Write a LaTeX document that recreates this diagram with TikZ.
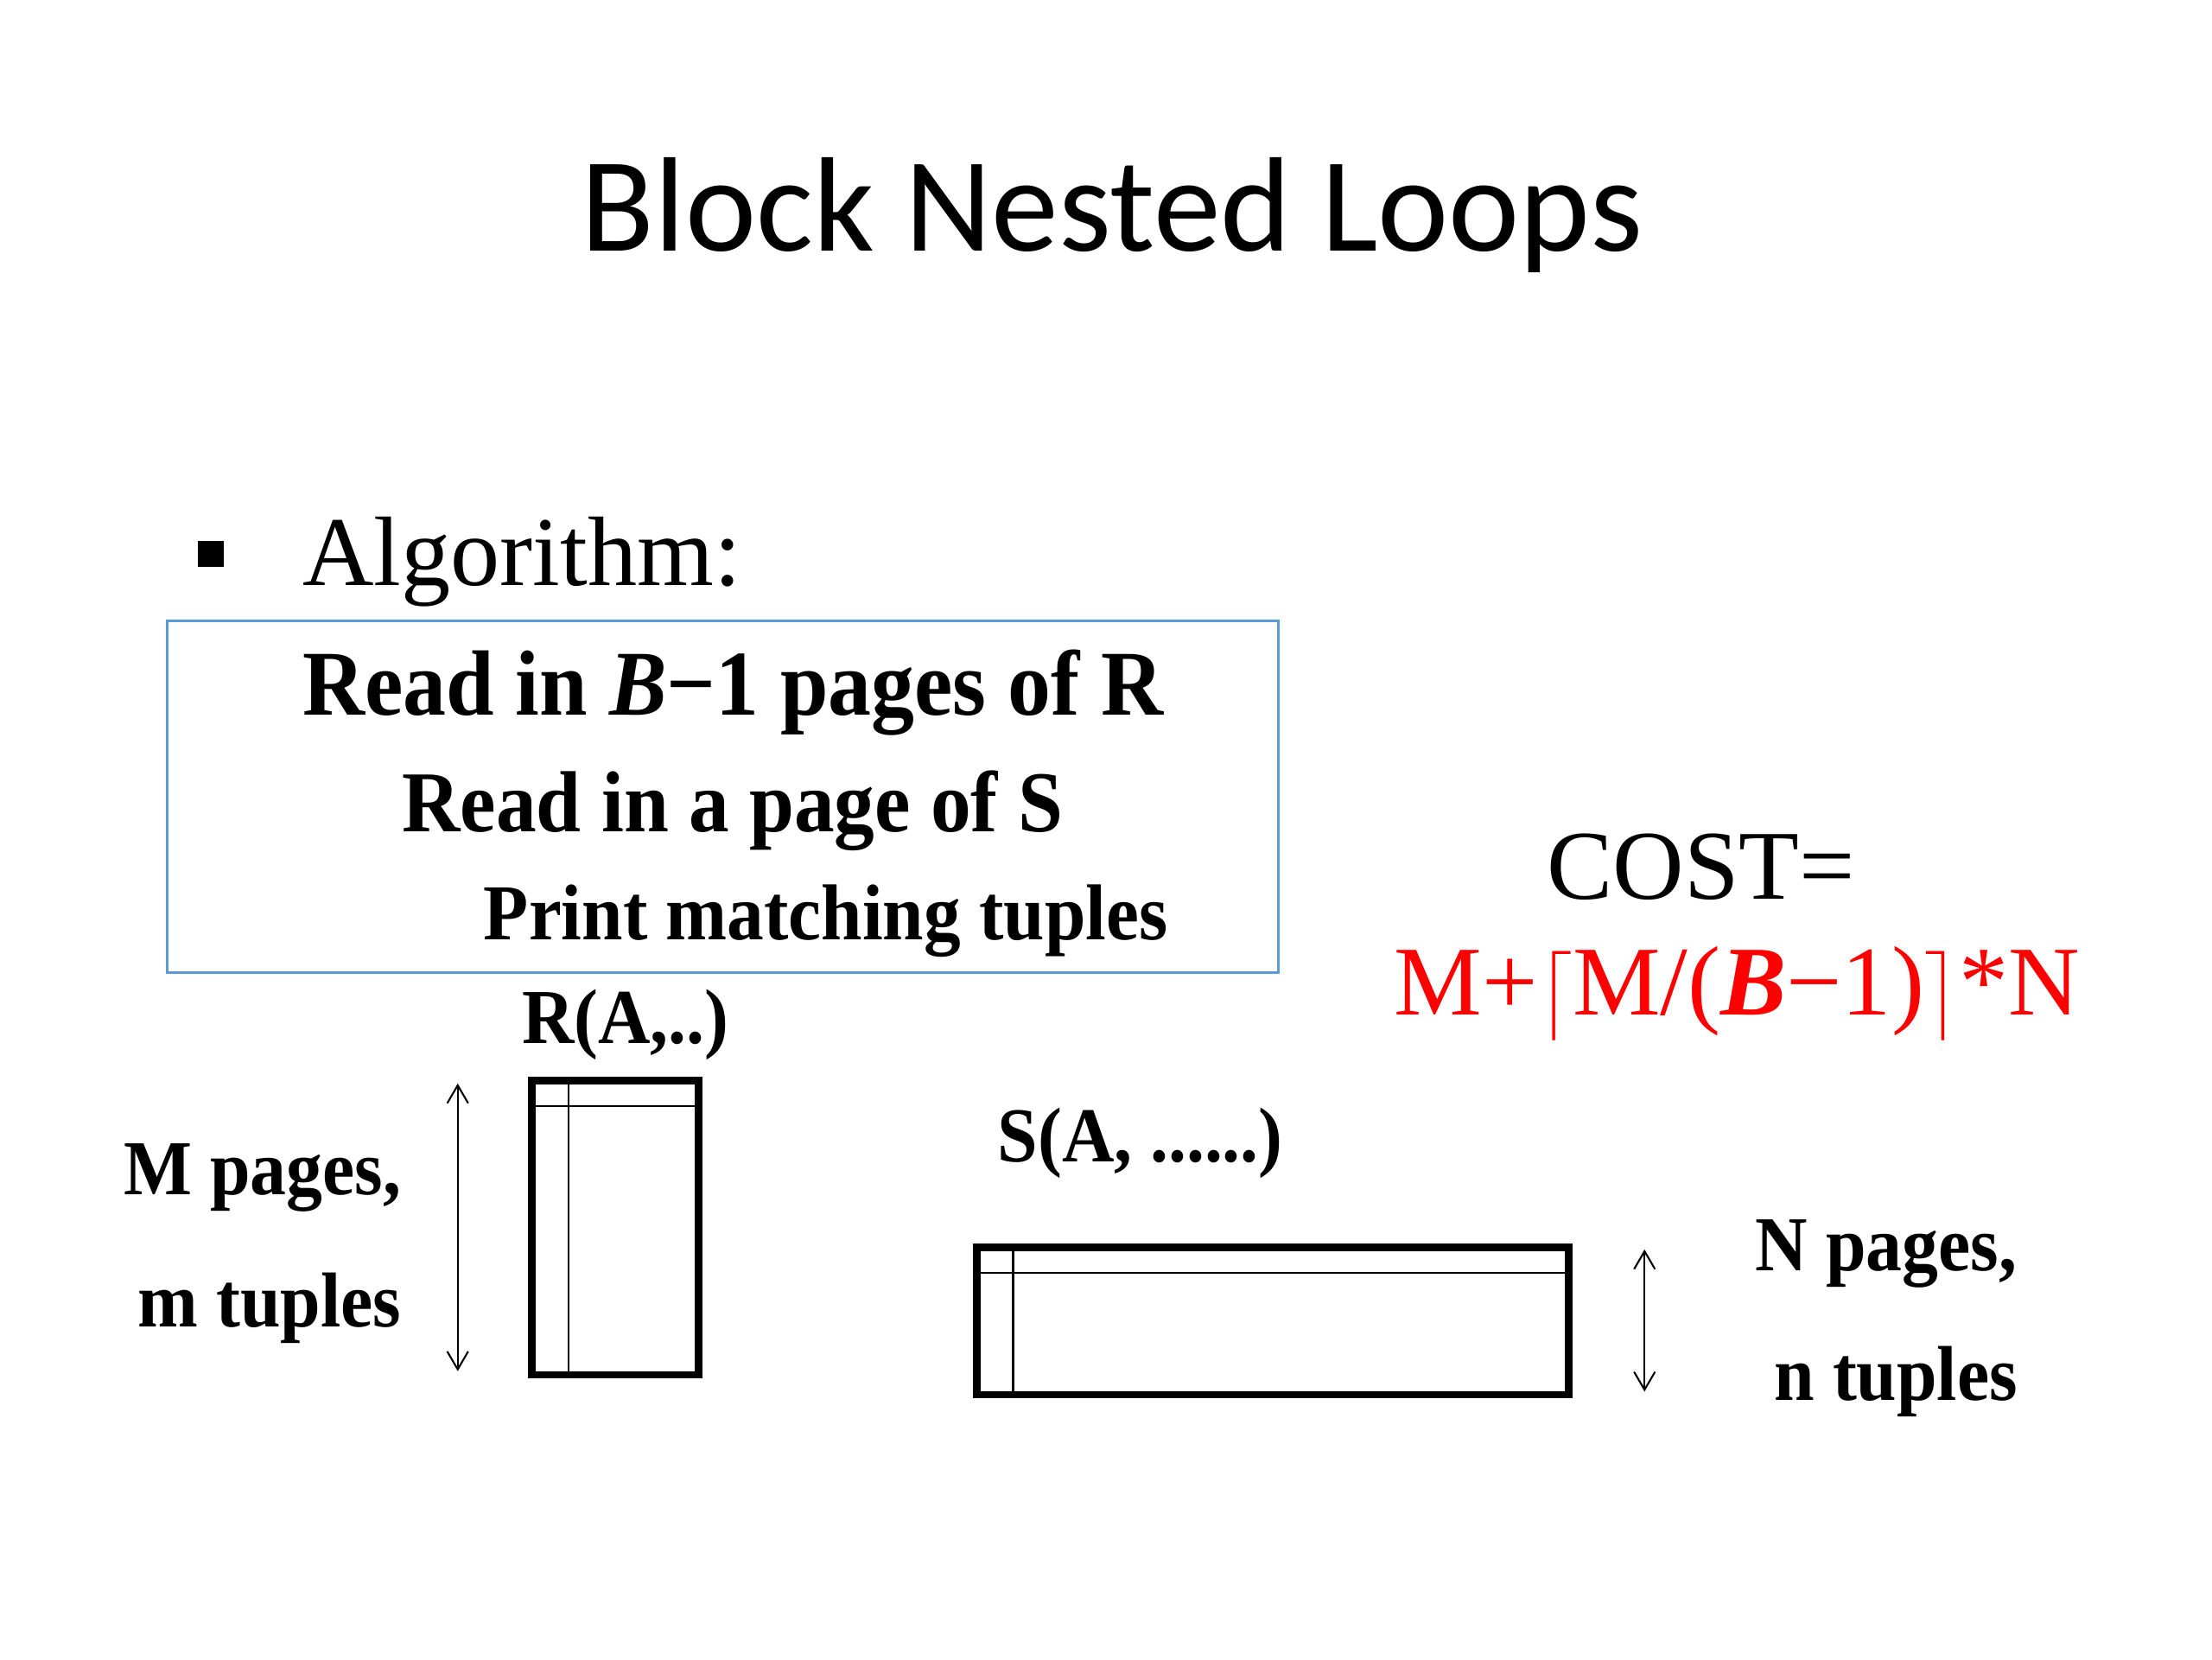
\documentclass[tikz,border=0pt]{standalone}
\usepackage{amsmath}
\usepackage{fontspec}
\setmainfont{Liberation Serif}
\newfontfamily\titlefont{Carlito}
\newfontfamily\narrowfont[FakeStretch=0.93]{Liberation Serif}
\usepackage{tikz}
\usetikzlibrary{arrows.meta}
\definecolor{myblack}{rgb}{0.000,0.000,0.000}
\definecolor{myred}{rgb}{1.000,0.000,0.000}
\definecolor{myblue}{rgb}{0.357,0.608,0.835}
\tikzstyle{none}=[inner sep=0pt]
\tikzstyle{title}=[inner sep=0pt,anchor=base,font=\titlefont\fontsize{45}{50}\selectfont]
\tikzstyle{bullet}=[inner sep=0pt,anchor=base west,font=\fontsize{33}{38}\selectfont]
\tikzstyle{step1}=[inner sep=0pt,anchor=base west,font=\narrowfont\bfseries\fontsize{31}{36}\selectfont]
\tikzstyle{step2}=[inner sep=0pt,anchor=base west,font=\narrowfont\bfseries\fontsize{29}{34}\selectfont]
\tikzstyle{step3}=[inner sep=0pt,anchor=base west,font=\narrowfont\bfseries\fontsize{26.5}{32}\selectfont]
\tikzstyle{label}=[inner sep=0pt,font=\narrowfont\bfseries\fontsize{26}{30}\selectfont]
\tikzstyle{cost}=[inner sep=0pt,anchor=base west,font=\fontsize{33}{38}\selectfont]
\tikzstyle{table}=[draw=myblack,line width=2.4pt]
\tikzstyle{rule}=[draw=myblack,line width=0.7pt]
\tikzstyle{size}=[draw=myblack,line width=0.6pt,{Straight Barb[length=6pt,width=7pt]}-{Straight Barb[length=6pt,width=7pt]}]

\begin{document}
\begin{tikzpicture}
\useasboundingbox (0,0) rectangle (26,19.5);
\node [title] (t) at (13.07,16.55) {Block Nested Loops};
\fill [myblack] (2.33,12.84) rectangle (2.63,13.14);
\node [bullet] (alg) at (3.55,12.62) {Algorithm:};
\draw [draw=myblue,line width=0.86pt] (1.97,12.2) rectangle (15.03,8.07);
\node [step1] (l1) at (3.55,11.1) {Read in \textit{B}−1 pages of R};
\node [step2] (l2) at (4.72,9.72) {Read in a page of S};
\node [step3] (l3) at (5.68,8.46) {Print matching tuples};
\node [cost] (c1) at (18.18,8.93) {COST=};
\node [cost,text=myred] (c2) at (16.38,7.57) {M+$\bigl\lceil$M/(\textbf{\textit{B}}−1)$\bigr\rceil$*N};
%R
\node [label,anchor=base west] (rname) at (6.13,7.24) {R(A,..)};
\draw [table] (6.25,6.8) rectangle (8.21,3.34);
\draw [rule] (6.68,6.8) -- (6.68,3.34);
\draw [rule] (6.25,6.5) -- (8.21,6.5);
\node [none] (r1) at (5.38,6.79) {};
\node [none] (r2) at (5.38,3.36) {};
\draw [size] (r1) to (r2);
\node [label,anchor=base east] (rm) at (4.72,5.46) {M pages,};
\node [label,anchor=base east] (rn) at (4.72,3.91) {m tuples};
%S
\node [label,anchor=base west] (sname) at (11.72,5.84) {S(A, ......)};
\draw [table] (11.48,4.84) rectangle (18.44,3.11);
\draw [rule] (11.91,4.84) -- (11.91,3.11);
\draw [rule] (11.48,4.54) -- (18.44,4.54);
\node [none] (s1) at (19.33,4.84) {};
\node [none] (s2) at (19.33,3.12) {};
\draw [size] (s1) to (s2);
\node [label,anchor=base west] (sm) at (20.63,4.57) {N pages,};
\node [label,anchor=base west] (sn) at (20.85,3.04) {n tuples};
\end{tikzpicture}
\end{document}
